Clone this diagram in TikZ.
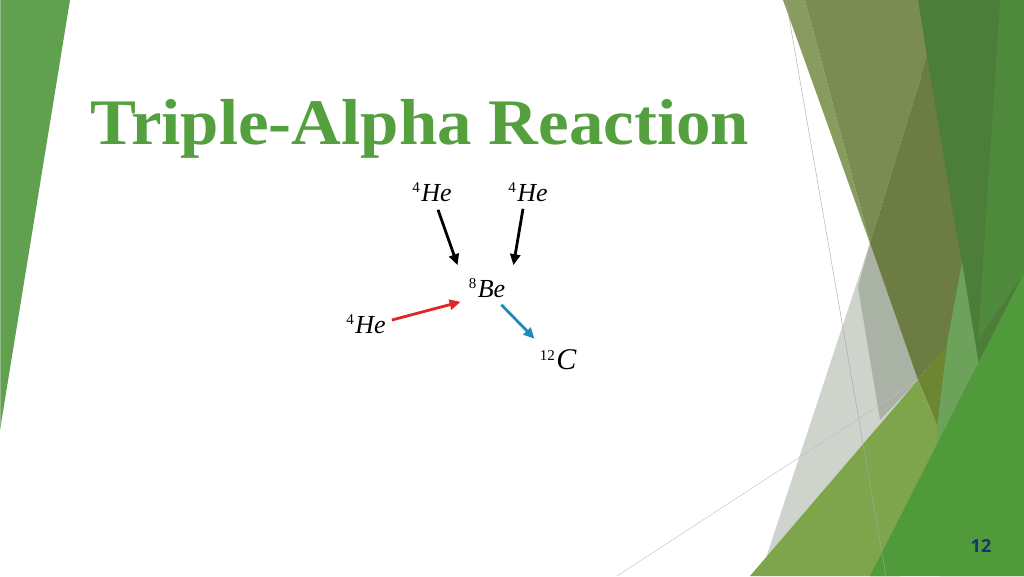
\documentclass[tikz,border=0pt]{standalone}
\usepackage{fontspec}
\setmainfont{Liberation Serif}
\newfontfamily\numfont{Open Sans}
\usepackage{xcolor}
\usetikzlibrary{arrows.meta}

\definecolor{titlegreen}{RGB}{84,160,62}
\definecolor{leafgreen}{RGB}{97,160,79}
\definecolor{olive}{RGB}{122,140,82}
\definecolor{lightolive}{RGB}{136,156,96}
\definecolor{darkolive}{RGB}{108,124,66}
\definecolor{darkgreen}{RGB}{76,125,57}
\definecolor{midgreen}{RGB}{79,137,60}
\definecolor{lightgreen}{RGB}{109,162,90}
\definecolor{brightgreen}{RGB}{80,154,59}
\definecolor{yellowgreen}{RGB}{127,165,76}
\definecolor{paleg}{RGB}{206,211,204}
\definecolor{midg}{RGB}{170,178,166}
\definecolor{mossy}{RGB}{108,134,50}
\definecolor{reactred}{RGB}{222,38,38}
\definecolor{reactblue}{RGB}{30,140,180}
\definecolor{pagenum}{RGB}{22,52,110}

\newcommand{\iso}[2]{\raisebox{9pt}{\fontsize{15}{15}\selectfont\upshape #1}\kern1.5pt #2}

\begin{document}
\begin{tikzpicture}[x=1pt, y=-1pt,
      arr/.style={line width=2.8pt, -{Triangle[length=11pt,width=10pt]}},
      nucl/.style={inner sep=0pt, font=\fontsize{26}{28}\selectfont\itshape}]
    \useasboundingbox (0,0) rectangle (1024,576);
    \fill[white] (0,0) rectangle (1024,576);
    % left facet
    \fill[leafgreen] (0,0) -- (70,0) -- (0,430) -- cycle;
    \draw[line width=1pt, leafgreen!70!white] (0.5,0) -- (0.5,425);
    % right facets
    \fill[darkgreen] (918,0) -- (1024,0) -- (1024,576) -- (940,576) -- cycle;
    \fill[midgreen] (1000,0) -- (1024,0) -- (1024,273) -- (978,340) -- cycle;
    \fill[paleg] (828,125) -- (870,243) -- (760,576) -- (900,576) -- (918,380) -- cycle;
    \fill[midg] (870,243) -- (918,380) -- (880,420) -- (858,287) -- cycle;
    \fill[lightolive] (783,0) -- (805,0) -- (870,243) -- cycle;
    \fill[olive] (805,0) -- (918,0) -- (927,57) -- (870,243) -- cycle;
    \fill[darkolive] (927,57) -- (954,220) -- (962,262) -- (947,343) -- (918,380) -- (870,243) -- cycle;
    \fill[lightgreen] (962,262) -- (980,372) -- (937,462) -- (937,425) -- (947,343) -- cycle;
    \fill[mossy] (918,380) -- (947,343) -- (937,425) -- cycle;
    \fill[yellowgreen] (918,380) -- (750,576) -- (900,576) -- (937,462) -- (937,425) -- cycle;
    \fill[brightgreen] (1024,273) -- (1024,576) -- (870,576) -- cycle;
    \draw[line width=0.4pt, gray!70] (786,0) -- (886,576);
    \draw[line width=0.4pt, gray!50] (617,576) -- (918,380);
    % title
    \node (title) [anchor=base west, inner sep=0pt, text=titlegreen, xscale=1.06,
      font=\fontsize{65}{70}\selectfont\bfseries] at (90,144) {Triple-Alpha Reaction};
    % nuclei
    \node (heA) [nucl] at (432,192) {\iso{4}{He}};
    \node (heB) [nucl] at (528,192) {\iso{4}{He}};
    \node (be) [nucl] at (487,288) {\iso{8}{Be}};
    \node (heC) [nucl] at (366,324) {\iso{4}{He}};
    \node (carbon) [nucl, font=\fontsize{30}{32}\selectfont\itshape] at (558,360) {\iso{12}{C}};
    \draw[arr, black] ([xshift=6pt, yshift=-8pt]heA.south) -- ([xshift=-11pt, yshift=13pt]be.north west);
    \draw[arr, black] ([xshift=-5pt, yshift=-7pt]heB.south) -- ([xshift=8pt, yshift=13pt]be.north east);
    \draw[arr, reactred] ([xshift=6pt, yshift=4pt]heC.east) -- ([xshift=-8pt, yshift=-4pt]be.south west);
    \draw[arr, reactblue] ([xshift=-4pt, yshift=-7pt]be.south east) -- ([xshift=-5pt, yshift=11pt]carbon.north west);
    % slide number
    \node (page) [text=pagenum, font=\numfont\bfseries\fontsize{18}{20}\selectfont] at (981,546) {12};
\end{tikzpicture}
\end{document}
